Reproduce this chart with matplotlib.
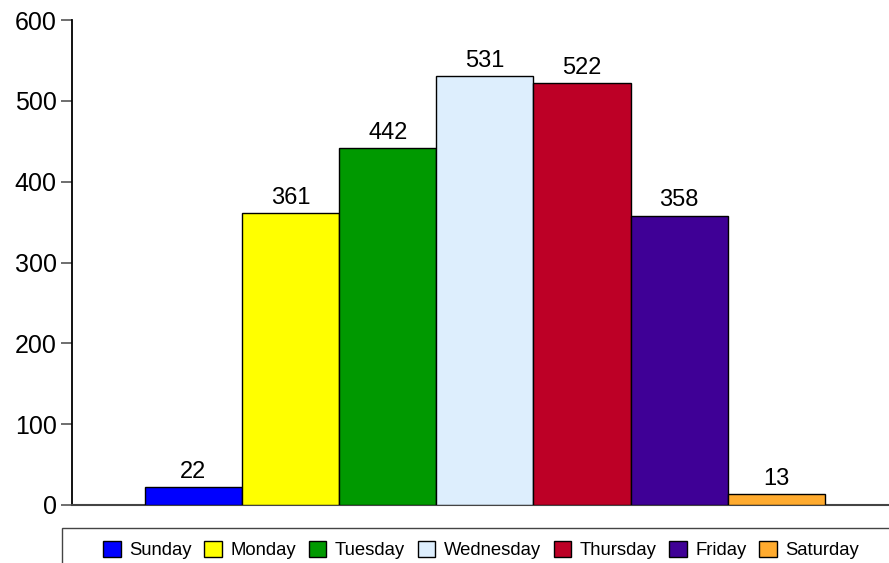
import matplotlib.pyplot as plt
import matplotlib
from matplotlib.patches import Rectangle

matplotlib.rcParams['font.family'] = ['Liberation Sans', 'DejaVu Sans']

days = ['Sunday', 'Monday', 'Tuesday', 'Wednesday', 'Thursday', 'Friday', 'Saturday']
counts = [22, 361, 442, 531, 522, 358, 13]
colors = ['#0000ff', '#ffff00', '#009900', '#ddeefd', '#bd0026', '#3f0096', '#ffab2f']
yticks = [0, 100, 200, 300, 400, 500, 600]

fig = plt.figure(figsize=(8.89, 5.63), dpi=100)
ax = fig.add_axes([72/889, 58/563, 1 - 72/889, 485/563])

x = list(range(len(days)))
bars = ax.bar(x, counts, width=1.0, color=colors, edgecolor='black', linewidth=1.0,
              label=days, zorder=3)
for xi, v in zip(x, counts):
    ax.annotate(str(v), (xi, v), xytext=(0, 3), textcoords='offset points',
                ha='center', va='bottom', fontsize=17)

ax.set_xlim(-1.25, 7.16)
ax.set_ylim(0, 600)
ax.set_yticks(yticks)
ax.set_xticks([])
ax.tick_params(axis='y', length=8, width=1.2, color='#555555', labelsize=18, pad=3)
for s in ['top', 'right']:
    ax.spines[s].set_visible(False)
ax.spines['left'].set_linewidth(1.3)
ax.spines['left'].set_color('black')
ax.spines['bottom'].set_linewidth(1.5)
ax.spines['bottom'].set_color('#444444')

# legend frame running off the bottom edge
box = Rectangle((62/889, -0.05), 0.95, (35/563) + 0.05, transform=fig.transFigure,
                facecolor='white', edgecolor='#444444', linewidth=1.0)
fig.patches.append(box)

handles = [Rectangle((0, 0), 1, 1, facecolor=c, edgecolor='black', linewidth=1.0) for c in colors]
fig.legend(handles, days, loc='center', bbox_to_anchor=(481/889, 13/563), ncol=7,
           frameon=False, fontsize=13.3, handlelength=0.95, handleheight=0.95,
           handletextpad=0.45, columnspacing=0.7, borderaxespad=0)

fig.savefig('out.png', dpi=100)
